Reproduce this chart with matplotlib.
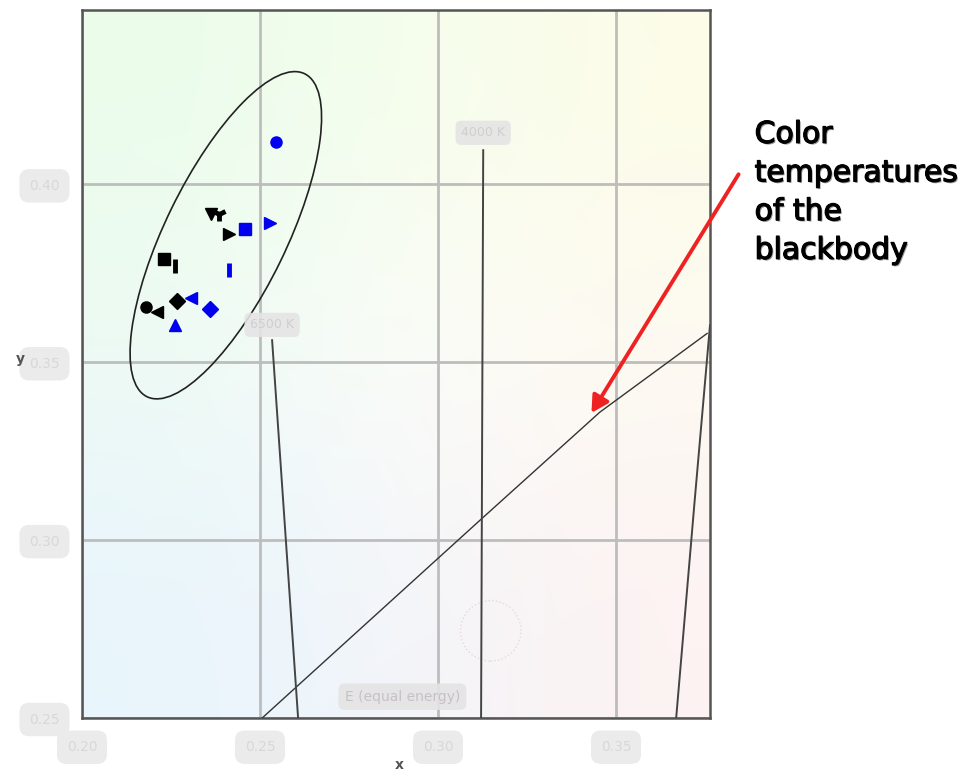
import numpy as np
from matplotlib import pyplot as plt
from matplotlib.patches import Ellipse, Circle
import matplotlib.patheffects as pe

# chromaticity points (x, y)
blue_x = [0.2545, 0.2528, 0.2458, 0.2413, 0.2306, 0.2360, 0.2261]
blue_y = [0.4118, 0.3890, 0.3874, 0.3758, 0.3680, 0.3649, 0.3604]
blue_m = ['o', '>', 's', '|', '<', 'D', '^']

black_x = [0.2413, 0.2362, 0.2385, 0.2230, 0.2261, 0.2180, 0.2211, 0.2267]
black_y = [0.3860, 0.3916, 0.3916, 0.3789, 0.3770, 0.3654, 0.3640, 0.3671]
black_m = ['>', 'v', '1', 's', '|', 'o', '<', 'D']

# blackbody locus and isotemperature lines
locus_x = [0.2506, 0.3118, 0.3455, 0.3756]
locus_y = [0.2500, 0.3056, 0.3360, 0.3581]
iso_lines = [([0.2534, 0.2607], [0.3562, 0.2500]),
             ([0.3127, 0.3121], [0.4096, 0.2500]),
             ([0.3764, 0.3720, 0.3669], [0.3604, 0.3100, 0.2500])]
iso_labels = ['6500 K', '4000 K']
iso_label_pos = [(0.2534, 0.3605), (0.3127, 0.4145)]

xticks = [0.20, 0.25, 0.30, 0.35]
yticks = [0.25, 0.30, 0.35, 0.40]

fig = plt.figure(figsize=(9.75, 7.78), dpi=100)
ax = fig.add_axes([0.0841, 0.0771, 0.6441, 0.9100])
ax.set_xlim(0.20, 0.3764)
ax.set_ylim(0.25, 0.449)

# soft background tint (mint / yellow / blue / pink corners, white middle)
tint = np.array([[[0.92, 0.99, 0.92], [0.96, 0.995, 0.93], [0.99, 0.99, 0.91]],
                 [[0.93, 0.98, 0.96], [0.995, 0.995, 0.99], [0.995, 0.98, 0.95]],
                 [[0.91, 0.96, 0.99], [0.95, 0.96, 0.98], [0.99, 0.95, 0.95]]])
ax.imshow(tint, extent=[0.20, 0.3764, 0.25, 0.449], origin='upper',
          interpolation='bicubic', aspect='auto', zorder=0)

ax.grid(True, color='#bdbdbd', linewidth=2, zorder=1)
ax.set_axisbelow(True)
for s in ax.spines.values():
    s.set_color('#555555')
    s.set_linewidth(1.8)

ax.add_patch(Ellipse((0.2404, 0.3857), 0.101, 0.034, angle=64,
                     fill=False, edgecolor='#222222', linewidth=1.2, zorder=3))
ax.add_patch(Circle((0.3148, 0.2745), 0.0085, fill=False, edgecolor='#dddddd',
                    linestyle=':', linewidth=1, zorder=2))

ax.plot(locus_x, locus_y, color='#333333', linewidth=1, zorder=3)
for lx, ly in iso_lines:
    ax.plot(lx, ly, color='#444444', linewidth=1.4, zorder=3)

blob = dict(boxstyle='round,pad=0.45', facecolor='#e4e4e4', edgecolor='none', alpha=0.9)
for lab, (px, py) in zip(iso_labels, iso_label_pos):
    ax.text(px, py, lab, color='#cfcfcf', fontsize=9, ha='center', va='center',
            bbox=blob, zorder=4)
ax.text(0.2900, 0.2560, 'E (equal energy)', color='#c8c0c8', fontsize=10,
        ha='center', va='center', bbox=blob, zorder=4)

for x, y, m in zip(blue_x, blue_y, blue_m):
    ms = 10 if m in '|1' else 8
    ax.plot(x, y, marker=m, color='#0000ee', markersize=ms,
            markeredgewidth=3.5 if m == '|' else 1, linestyle='none', zorder=5)
for x, y, m in zip(black_x, black_y, black_m):
    ms = 10 if m in '|1' else 8
    ax.plot(x, y, marker=m, color='black', markersize=ms,
            markeredgewidth=3.5 if m in '|1' else 1, linestyle='none', zorder=5)

ax.set_xticks(xticks)
ax.set_yticks(yticks)
ax.set_xticklabels(['%.2f' % t for t in xticks])
ax.set_yticklabels(['%.2f' % t for t in yticks])
ax.tick_params(length=0, labelsize=10, labelcolor='#d8d8d8', pad=16)
for t in ax.get_xticklabels() + ax.get_yticklabels():
    t.set_bbox(dict(boxstyle='round,pad=0.7', facecolor='#ebebeb', edgecolor='none'))

fig.text(0.021, 0.538, 'y', fontsize=10, color='#555555', ha='center', va='center',
         fontweight='bold')
fig.text(0.410, 0.008, 'x', fontsize=10, color='#555555', ha='center', va='bottom',
         fontweight='bold')

ax.annotate('', xy=(0.3427, 0.3351), xycoords='data',
            xytext=(0.759, 0.779), textcoords='figure fraction',
            arrowprops=dict(arrowstyle='-|>,head_length=1.0,head_width=0.55',
                            color='#ee2222', linewidth=2.8), zorder=6)

fig.text(0.774, 0.846, 'Color\ntemperatures\nof the\nblackbody', fontsize=21.5,
         color='black', ha='left', va='top', linespacing=1.42,
         path_effects=[pe.withSimplePatchShadow(offset=(1, -1), shadow_rgbFace='#555555', alpha=0.6),
                       pe.withStroke(linewidth=0.9, foreground='black')])

fig.savefig('out.png', dpi=100)
